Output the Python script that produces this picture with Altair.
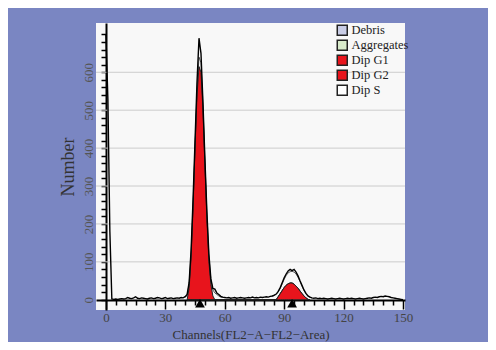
import altair as alt
import pandas as pd

# ---- data ----
hist_counts = [
    700, 530, 180, 2, 1, 2, 1, 2, 3, 2,
    3, 6, 4, 3, 5, 8, 4, 3, 5, 4,
    3, 2, 4, 5, 3, 4, 6, 5, 3, 4,
    6, 3, 4, 5, 3, 4, 5, 4, 6, 5,
    8, 14, 45, 130, 265, 420, 575, 690, 650, 520,
    370, 230, 120, 55, 30, 28, 18, 14, 9, 7,
    6, 5, 6, 4, 5, 6, 4, 5, 6, 5,
    4, 5, 6, 5, 7, 5, 6, 5, 7, 6,
    7, 8, 7, 9, 10, 12, 15, 22, 32, 45,
    58, 68, 76, 80, 77, 80, 73, 63, 50, 38,
    26, 17, 10, 7, 5, 4, 5, 3, 4, 3,
    4, 3, 2, 3, 4, 3, 2, 3, 4, 3,
    2, 3, 4, 3, 4, 3, 2, 3, 4, 3,
    2, 3, 4, 5, 4, 6, 7, 6, 8, 9,
    8, 10, 9, 8, 6, 5, 4, 3, 2, 1,
    0,
]
hist_channels = list(range(len(hist_counts)))

g1_channels = [41, 42, 43, 44, 45, 46, 47, 48, 49, 50, 51, 52, 53, 54, 55]
g1_values = [0, 30, 110, 240, 400, 540, 615, 600, 500, 350, 210, 100, 40, 10, 0]

g2_channels = [86, 87, 88, 89, 90, 91, 92, 93, 94, 95, 96, 97, 98, 99, 100, 101, 102, 103]
g2_values = [0, 8, 16, 24, 32, 38, 42, 44, 44, 41, 36, 30, 23, 16, 10, 5, 1, 0]

fit_channels = [40, 41, 42, 43, 44, 45, 46, 47, 48, 49, 50, 51, 52, 53, 54, 55, 56, 57, 58, 59]
fit_values = [6, 12, 40, 120, 250, 405, 555, 640, 625, 515, 365, 225, 115, 52, 26, 18, 14, 10, 7, 6]
fit2_channels = [84, 85, 86, 87, 88, 89, 90, 91, 92, 93, 94, 95, 96, 97, 98, 99, 100, 101, 102, 103, 104]
fit2_values = [9, 11, 15, 21, 30, 42, 54, 64, 71, 74, 75, 73, 68, 59, 48, 36, 25, 16, 10, 7, 5]

peak_means = [47.5, 94]
peak_marker_level = [-9, -9]

legend_names = ["Debris", "Aggregates", "Dip G1", "Dip G2", "Dip S"]
legend_colors = ["#C9CDE6", "#D9EBCB", "#E8141C", "#E8141C", "#FFFFFF"]

x_tick_values = list(range(0, 151, 5))
y_tick_values = list(range(0, 701, 20))
y_grid_values = [100, 200, 300, 400, 500, 600]

# ---- tables ----
hist_df = pd.DataFrame({"ch": hist_channels, "n": hist_counts})
areas_df = pd.concat([
    pd.DataFrame({"ch": g1_channels, "n": g1_values, "series": "Dip G1"}),
    pd.DataFrame({"ch": g2_channels, "n": g2_values, "series": "Dip G2"}),
])
fit_df = pd.concat([
    pd.DataFrame({"ch": fit_channels, "n": fit_values, "part": "a"}),
    pd.DataFrame({"ch": fit2_channels, "n": fit2_values, "part": "b"}),
])
peaks_df = pd.DataFrame({"ch": peak_means, "n": peak_marker_level})
grid_df = pd.DataFrame({"n": y_grid_values})

FONT = "Liberation Serif"

x_scale = alt.Scale(domain=[-5, 151], nice=False, zero=False)
y_scale = alt.Scale(domain=[-27, 730], nice=False, zero=False)

x_axis = alt.Axis(
    values=x_tick_values,
    tickCount=500,
    format="d",
    labelExpr="datum.value % 30 === 0 ? datum.label : ''",
    labelOverlap=False,
    labelFlush=False,
    offset=-10,
    grid=False,
    domainColor="black",
    domainWidth=2,
    tickColor="black",
    tickWidth=1.5,
    tickSize={"condition": {"test": "datum.value % 30 === 0", "value": 9}, "value": 5},
    labelFont=FONT,
    labelFontSize=13,
    labelColor="#444444",
    labelPadding=2,
    title="Channels(FL2\u2212A\u2212FL2\u2212Area)",
    titleFont=FONT,
    titleFontSize=13,
    titleFontWeight="normal",
    titleColor="#333333",
    titlePadding=4,
)

y_axis = alt.Axis(
    values=y_tick_values,
    tickCount=500,
    format="d",
    labelExpr="(datum.value % 100 === 0 && datum.value <= 600) ? datum.label : ''",
    labelOverlap=False,
    labelFlush=False,
    labelAngle=270,
    offset=-10,
    grid=False,
    domainColor="black",
    domainWidth=2,
    tickColor="black",
    tickWidth=1.5,
    tickSize=5,
    labelFont=FONT,
    labelFontSize=13,
    labelColor="#555555",
    labelPadding=6,
    title="Number",
    titleFont=FONT,
    titleFontSize=18,
    titleFontWeight="normal",
    titleColor="#333333",
    titlePadding=5,
)

X = alt.X("ch:Q", scale=x_scale, axis=x_axis)
Y = alt.Y("n:Q", scale=y_scale, axis=y_axis)

grid = alt.Chart(grid_df).mark_rule(color="#CCCCCC", strokeWidth=1).encode(y=Y)

areas = alt.Chart(areas_df).mark_area(stroke="#222222", strokeWidth=1, opacity=1).encode(
    x=X,
    y=Y,
    color=alt.Color(
        "series:N",
        scale=alt.Scale(domain=legend_names, range=legend_colors),
        legend=alt.Legend(
            title=None,
            orient="none",
            legendX=240,
            legendY=1,
            symbolType="square",
            symbolSize=100,
            symbolStrokeColor="#222222",
            symbolStrokeWidth=1.5,
            symbolOpacity=1,
            labelFont=FONT,
            labelFontSize=12.5,
            labelColor="#222222",
            rowPadding=-4,
            labelOffset=3,
        ),
    ),
    detail="series:N",
)

fit_line = alt.Chart(fit_df).mark_line(color="#333333", strokeWidth=0.8).encode(
    x=X, y=Y, detail="part:N",
)

hist_line = alt.Chart(hist_df).mark_line(color="black", strokeWidth=1.4).encode(x=X, y=Y)

peaks = alt.Chart(peaks_df).mark_point(shape="triangle-up", filled=True, color="black", size=95, opacity=1).encode(x=X, y=Y)

chart = alt.layer(grid, areas, fit_line, hist_line, peaks).properties(
    width=309,
    height=287,
    background="#7A86C2",
    padding={"left": 88, "top": 15, "right": 83, "bottom": 32},
    autosize=alt.AutoSizeParams(type="none"),
).configure_view(fill="#F8F8F8", stroke=None)

chart.save("out.html", embed_options={"renderer": "svg", "actions": False})
